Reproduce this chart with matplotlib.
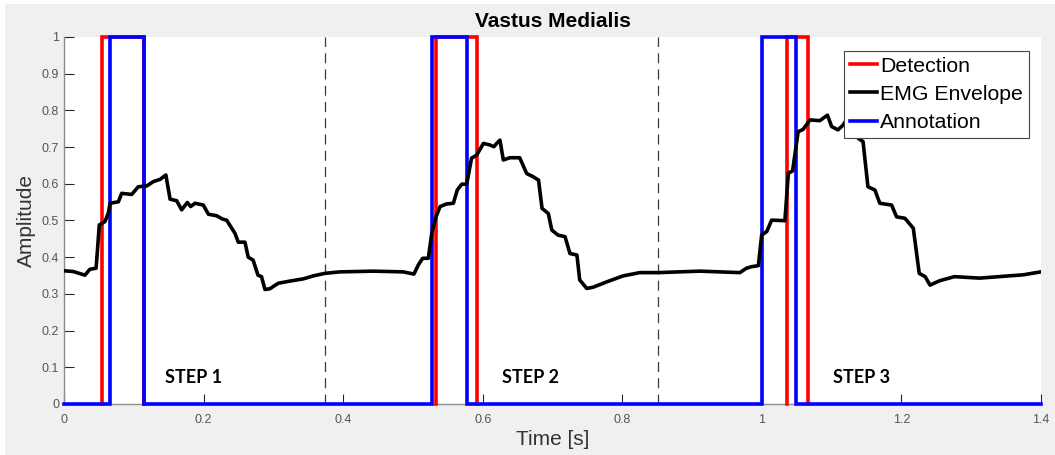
import matplotlib
matplotlib.use("Agg")
import matplotlib.pyplot as plt
from matplotlib.patches import Rectangle

# ---- data ----
env_t = [0.0, 0.0133, 0.030, 0.037, 0.046, 0.0506, 0.0587, 0.0635, 0.066, 0.078, 0.0826, 0.097,
         0.1065, 0.1185, 0.128, 0.1376, 0.146, 0.152, 0.1614, 0.1686, 0.1767, 0.1815,
         0.1877, 0.1996, 0.207, 0.2187, 0.227, 0.233, 0.239, 0.245, 0.2497, 0.2593, 0.264, 0.271,
         0.278, 0.283, 0.288, 0.295, 0.307, 0.324, 0.343, 0.357, 0.374, 0.395, 0.443, 0.486,
         0.5015, 0.5077, 0.514, 0.522, 0.527, 0.533, 0.539, 0.548, 0.558, 0.5635, 0.57, 0.577,
         0.584, 0.5913, 0.601, 0.610, 0.616, 0.62, 0.6247, 0.6295, 0.639, 0.653, 0.663, 0.6725,
         0.68, 0.685, 0.694, 0.699, 0.708, 0.718, 0.725, 0.735, 0.739, 0.749, 0.758, 0.778, 0.801,
         0.825, 0.8516, 0.911, 0.9685, 0.978, 0.985, 0.995, 0.9997, 1.007, 1.014,
         1.033, 1.038, 1.044, 1.052, 1.059, 1.069, 1.083, 1.094, 1.1, 1.109,
         1.1165, 1.121, 1.128, 1.138, 1.145, 1.152, 1.162, 1.169, 1.186, 1.193, 1.205, 1.217,
         1.2255, 1.234, 1.241, 1.255, 1.276, 1.312, 1.3746, 1.3995]
env_v = [0.363, 0.361, 0.351, 0.367, 0.370, 0.488, 0.497, 0.520, 0.547, 0.551, 0.574, 0.571,
         0.592, 0.594, 0.606, 0.612, 0.624, 0.558, 0.554, 0.529, 0.549, 0.538,
         0.547, 0.542, 0.517, 0.513, 0.504, 0.501, 0.483, 0.465, 0.441, 0.441, 0.400, 0.392,
         0.351, 0.347, 0.312, 0.314, 0.329, 0.335, 0.341, 0.349, 0.356, 0.360, 0.362, 0.360,
         0.354, 0.379, 0.397, 0.397, 0.465, 0.510, 0.538, 0.545, 0.547, 0.583, 0.599, 0.599,
         0.670, 0.678, 0.710, 0.706, 0.701, 0.710, 0.719, 0.665, 0.671, 0.671, 0.628, 0.619,
         0.610, 0.533, 0.519, 0.474, 0.460, 0.456, 0.410, 0.406, 0.338, 0.315, 0.318, 0.333, 0.349,
         0.358, 0.358, 0.362, 0.358, 0.370, 0.374, 0.377, 0.460, 0.470, 0.501,
         0.4995, 0.629, 0.635, 0.742, 0.748, 0.774, 0.772, 0.787, 0.756, 0.747,
         0.760, 0.774, 0.780, 0.724, 0.715, 0.592, 0.583, 0.547, 0.542, 0.510, 0.506, 0.479,
         0.356, 0.347, 0.324, 0.336, 0.347, 0.343, 0.352, 0.360]

det_on = [0.055, 0.5325, 1.036]
det_off = [0.114, 0.592, 1.066]
ann_on = [0.066, 0.528, 1.0]
ann_off = [0.1153, 0.5775, 1.049]

step_sep = [0.374, 0.8516]
step_labels = ["STEP 1", "STEP 2", "STEP 3"]
step_x = [0.186, 0.668, 1.143]

x_ticks = [0, 0.2, 0.4, 0.6, 0.8, 1.0, 1.2, 1.4]
x_ticklabels = ["0", "0.2", "0.4", "0.6", "0.8", "1", "1.2", "1.4"]
y_ticks = [0, 0.1, 0.2, 0.3, 0.4, 0.5, 0.6, 0.7, 0.8, 0.9, 1.0]
y_ticklabels = ["0", "0.1", "0.2", "0.3", "0.4", "0.5", "0.6", "0.7", "0.8", "0.9", "1"]


def pulses(on, off, t0=0.0, t1=1.4):
    t, v = [t0], [0]
    for a, b in zip(on, off):
        t += [a, a, b, b]
        v += [0, 1, 1, 0]
    t.append(t1)
    v.append(0)
    return t, v


plt.rcParams['font.family'] = ['Liberation Sans', 'DejaVu Sans']

fig = plt.figure(figsize=(10.55, 4.55), dpi=100)
fig.patch.set_facecolor('white')
fig.add_artist(Rectangle((5 / 1055, 0), 1, 1 - 4 / 455, transform=fig.transFigure,
                         facecolor='#f0f0f0', edgecolor='none', zorder=-10))

ax = fig.add_axes([64 / 1055, 1 - 404 / 455, (1041 - 64) / 1055, (404 - 37) / 455])
ax.set_facecolor('white')

lw = 2.6
# detection pulses drawn without the zero baseline (hidden under the axis in the reference)
l_det = None
for a, b in zip(det_on, det_off):
    l_det, = ax.plot([a, a, b, b], [0, 1, 1, 0], color='#ff0000', lw=lw, zorder=3,
                     clip_on=False, solid_joinstyle='miter')
at, av = pulses(ann_on, ann_off)
l_ann, = ax.plot(at, av, color='#0000ff', lw=lw, zorder=4, clip_on=False, solid_joinstyle='miter')
l_env, = ax.plot(env_t, env_v, color='black', lw=lw, zorder=5, solid_joinstyle='round')

for xs in step_sep:
    ax.axvline(xs, color='#3a3a3a', lw=0.9, ls=(0, (8, 5)), zorder=2)

for lab, xs in zip(step_labels, step_x):
    ax.text(xs, 0.071, lab, ha='center', va='center', fontsize=13, fontweight='bold',
            family=['Lato', 'DejaVu Sans'], color='black', zorder=6)

ax.set_xlim(0, 1.4)
ax.set_ylim(0, 1)
ax.set_xticks(x_ticks)
ax.set_xticklabels(x_ticklabels)
ax.set_yticks(y_ticks)
ax.set_yticklabels(y_ticklabels)
ax.tick_params(direction='in', length=7, width=0.8, colors='#262626', labelcolor='#555555',
               labelsize=9)
ax.tick_params(axis='x', pad=7)
for s in ['top', 'right']:
    ax.spines[s].set_visible(False)
for s in ['left', 'bottom']:
    ax.spines[s].set_color('#8c8c8c')
    ax.spines[s].set_linewidth(1.0)

ax.set_xlabel('Time [s]', fontsize=15, color='#333333', labelpad=3)
ax.set_ylabel('Amplitude', fontsize=15, color='#333333', labelpad=4)
ax.set_title('Vastus Medialis', fontsize=15, fontweight='bold', pad=7)

leg = ax.legend([l_det, l_env, l_ann], ['Detection', 'EMG Envelope', 'Annotation'],
                loc='upper right', bbox_to_anchor=(1029 / 1055, 1 - 51 / 455),
                bbox_transform=fig.transFigure, fontsize=15.3, frameon=True, fancybox=False,
                edgecolor='#444444', framealpha=1, handlelength=1.25, handletextpad=0.17,
                borderpad=0.27, labelspacing=0.43, borderaxespad=0)
leg.get_frame().set_linewidth(0.8)
leg.set_zorder(10)

fig.savefig('out.png', dpi=100, facecolor=fig.get_facecolor())
